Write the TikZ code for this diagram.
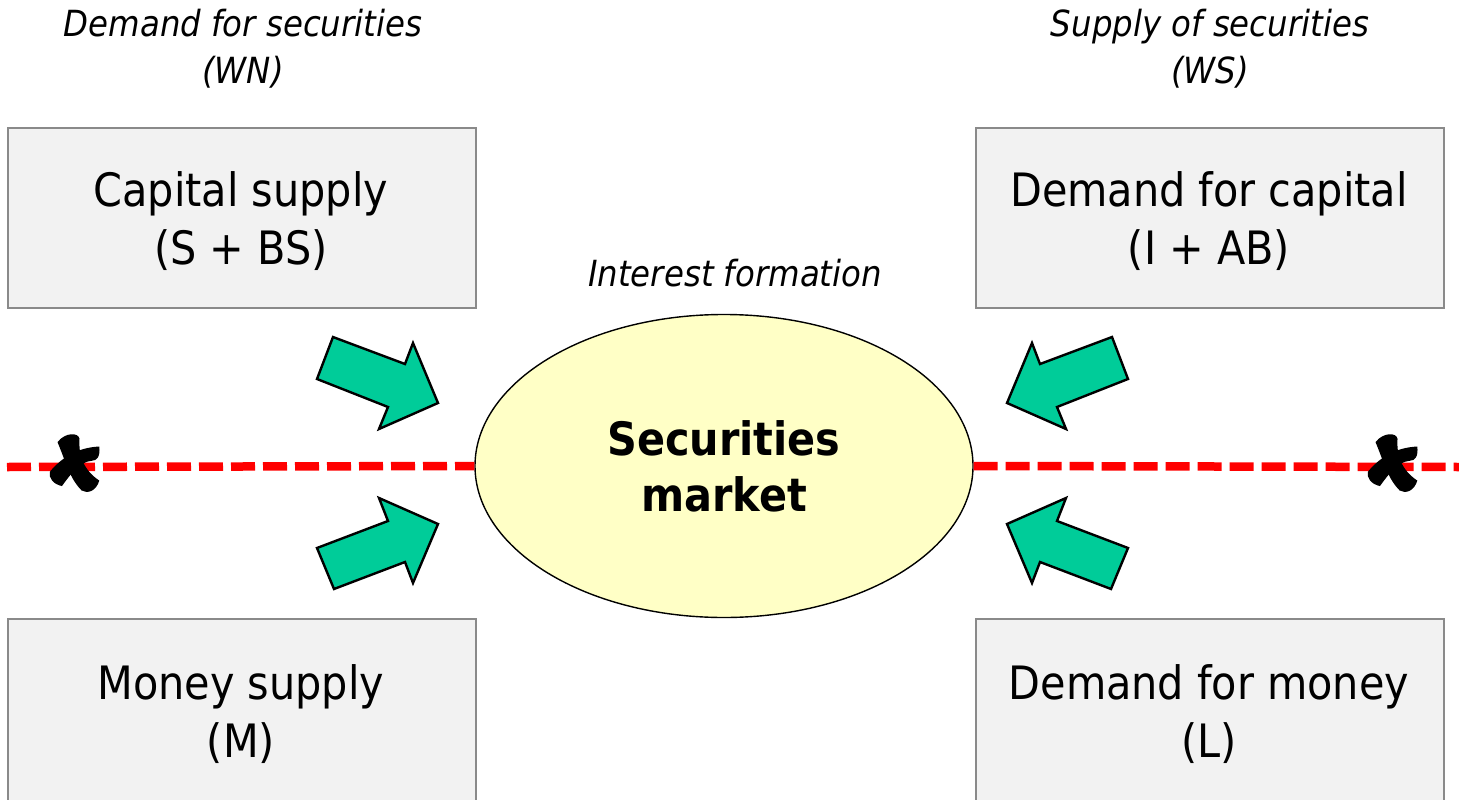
\documentclass[tikz,border=0pt]{standalone}
\usepackage{fontspec}
\setmainfont{DejaVu Sans Condensed}
\usetikzlibrary{shapes.geometric}

\definecolor{boxfill}{HTML}{F2F2F2}
\definecolor{boxline}{HTML}{8A8A8A}
\definecolor{mktfill}{HTML}{FFFFC6}
\definecolor{flowgreen}{HTML}{00CC99}
\definecolor{cutred}{HTML}{FF0000}

\tikzset{
  sector/.style={draw=boxline, fill=boxfill, line width=1.6pt, minimum width=468pt,
    minimum height=180pt, inner sep=0pt, anchor=north west},
  sectortext/.style={align=center, font=\fontsize{46}{58}\selectfont},
  sidelabel/.style={align=center, font=\fontsize{36}{47}\selectfont\itshape},
  market/.style={ellipse, draw=black, fill=mktfill, line width=1.4pt, minimum width=498pt,
    minimum height=303pt, inner sep=0pt, align=center, font=\fontsize{46}{56}\selectfont\bfseries},
  flow/.style={fill=flowgreen, draw=black, line width=2.4pt, line join=miter},
  cutline/.style={draw=cutred, line width=8.5pt, dash pattern=on 24pt off 8pt},
  scissor/.pic={
    % two curved blades crossing
    \fill (-15,-19) .. controls (-8,-28) and (4,-28) .. (5,-22)
      .. controls (4,-8) and (8,6) .. (23,16)
      .. controls (20,26) and (12,28) .. (7,25)
      .. controls (-4,14) and (-7,0) .. (-15,-19) -- cycle;
    \fill (23,-15) .. controls (24,-6) and (21,-2) .. (16,-2)
      .. controls (5,-1) and (-3,10) .. (-11,21)
      .. controls (-19,19) and (-23,14) .. (-22,8)
      .. controls (-12,-4) and (2,-14) .. (23,-15) -- cycle;
  }
}

\begin{document}
\begin{tikzpicture}[x=1pt, y=-1pt]
  \useasboundingbox (0,0) rectangle (1459,800);
  \clip (0,0) rectangle (1459,800);

  % ends of the dashed cut line
  \coordinate (lend) at (7,467);
  \coordinate (rend) at (1459,467);

  % market in the centre
  \node[market] (mkt) at (724,466) {Securities\\market};
  \draw[cutline] (lend) -- (mkt.west);
  \draw[cutline] (mkt.east) -- (rend);

  % the four sector boxes
  \node[sector] (cs) at (7,127) {};
  \node[sector] (dc) at (975,127) {};
  \node[sector, minimum height=195pt] (ms) at (7,618) {};
  \node[sector, minimum height=195pt] (dm) at (975,618) {};

  \node[sectortext] (cst) at (241,221) {Capital supply\\(S + BS)};
  \node[sectortext] (dct) at (1209,221) {Demand for capital\\(I + AB)};
  \node[sectortext] (mst) at (241,714) {Money supply\\(M)};
  \node[sectortext] (dmt) at (1209,714) {Demand for money\\(L)};

  % headings
  \node[sidelabel] (wn) at (243,49) {Demand for securities\\(WN)};
  \node[sidelabel] (ws) at (1210,49) {Supply of securities\\(WS)};
  \node[sidelabel] (intf) at (735,273) {Interest formation};

  % flow arrows into the market
  \draw[flow] (333,337) -- (405,364) -- (413,343) -- (438,403) -- (379,429) -- (388,407) -- (317,379) -- cycle;
  \draw[flow] (317,548) -- (388,521) -- (379,498) -- (438,524) -- (413,583) -- (405,562) -- (334,589) -- cycle;
  \draw[flow] (1112,337) -- (1040,364) -- (1032,343) -- (1007,403) -- (1066,429) -- (1057,407) -- (1128,379) -- cycle;
  \draw[flow] (1128,548) -- (1057,521) -- (1066,498) -- (1007,524) -- (1032,583) -- (1040,562) -- (1111,589) -- cycle;

  % scissors on the cut line
  \pic[scale=1.1] at (74,463) {scissor};
  \pic[scale=1.1] at (1392,463) {scissor};
\end{tikzpicture}
\end{document}
